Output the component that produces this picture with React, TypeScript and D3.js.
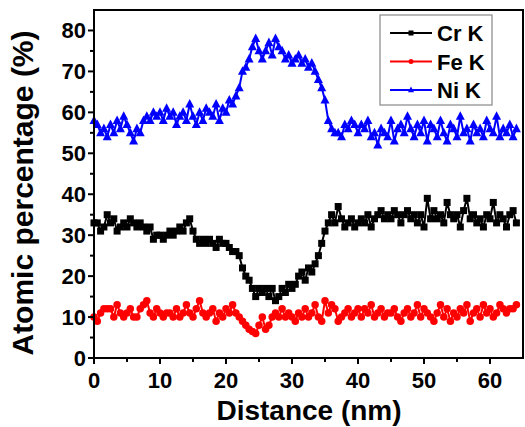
import React from "react";
import * as d3 from "d3";

const STEP = 0.5;
const crK = [
  33,33,31,32,35,33,34,31,32,33,
  32,34,33,32,33,32,31,32,29,30,
  30,29,30,31,30,31,32,31,33,34,
  31,29,28,29,28,29,28,27,29,28,
  28,27,26,26,25,22,20,19,17,15,
  17,16,17,15,17,14,15,17,16,18,
  17,18,20,21,19,22,21,23,25,28,
  31,33,35,33,37,34,32,33,34,32,
  33,34,33,35,32,34,35,36,34,35,
  34,36,35,33,35,36,34,35,33,35,
  32,39,34,36,34,35,33,38,35,34,
  35,32,36,39,34,35,33,34,32,35,
  34,38,33,35,34,32,35,36,33,
];
const feK = [
  10,9,11,12,12,12,10,13,11,10,
  11,12,10,10,12,13,14,11,10,12,
  11,10,11,11,10,12,10,11,13,11,
  10,12,14,11,10,11,12,9,11,10,
  12,11,13,11,10,9,8,7,6.5,6,
  8,10,7,8,10,11,10,12,10,11,
  10,9,11,10,12,10,11,13,10,9,
  14,11,13,12,9,10,11,12,10,11,
  12,10,12,11,13,10,11,12,10,11,
  11,12,10,9,11,12,10,11,13,10,
  12,11,10,9,11,13,10,12,9,11,
  10,12,11,13,9,11,12,10,13,11,
  12,10,11,13,12,11,12,12,13,
];
const niK = [
  58,57,55,56,54,57,55,58,56,59,
  57,55,53,56,55,58,59,58,60,59,
  60,58,61,59,60,57,59,60,58,62,
  59,57,60,58,61,60,59,62,58,61,
  60,63,62,64,66,70,71,73,76,78,
  75,73,75,77,74,78,76,75,73,74,
  72,73,74,72,73,71,72,70,68,66,
  63,58,56,55,55,54,57,56,58,57,
  55,57,56,58,54,55,52,56,55,54,
  58,53,56,57,55,59,56,54,57,55,
  58,53,57,56,54,58,55,53,57,56,
  54,59,55,56,53,57,55,56,54,58,
  56,55,59,54,56,55,57,54,56,
];
const seriesNames = ["Cr K", "Fe K", "Ni K"];
const seriesColors = ["#000000", "#ff0000", "#0000ff"];
const xTicks = [0, 10, 20, 30, 40, 50, 60];
const yTicks = [0, 10, 20, 30, 40, 50, 60, 70, 80];

const W = 525, H = 427;
const L = 94, R = 523, T = 10, B = 358;

function Marker({ kind, x, y, color, s }: { kind: number; x: number; y: number; color: string; s: number }) {
  if (kind === 0) return <rect x={x - s / 2} y={y - s / 2} width={s} height={s} fill={color} />;
  if (kind === 1) return <circle cx={x} cy={y} r={s / 2} fill={color} />;
  const h = s * 0.95;
  return <path d={`M${x},${y - h * 0.6}L${x + s / 2},${y + h * 0.4}L${x - s / 2},${y + h * 0.4}Z`} fill={color} />;
}

export default function App() {
  const x = d3.scaleLinear().domain([0, 65]).range([L, R]);
  const y = d3.scaleLinear().domain([0, 85]).range([B, T]);
  const all = [crK, feK, niK];
  const line = d3.line<number>().x((_, i) => x(i * STEP)).y((d) => y(d));
  const xMinor = d3.range(5, 65, 10);
  const yMinor = d3.range(5, 85, 10);
  const font = "'Liberation Sans', Arial, sans-serif";
  return (
    <div style={{ position: "fixed", left: 0, top: 0 }}>
      <svg width={W} height={H} style={{ display: "block", background: "#fff" }} fontFamily={font}>
        {all.map((data, k) => (
          <g key={k}>
            <path d={line(data) || ""} fill="none" stroke={seriesColors[k]} strokeWidth={2} />
            {data.map((v, i) => (
              <Marker key={i} kind={k} x={x(i * STEP)} y={y(v)} color={seriesColors[k]} s={k === 0 ? 7 : k === 1 ? 7.5 : 9} />
            ))}
          </g>
        ))}
        <rect x={L} y={T} width={R - L} height={B - T} fill="none" stroke="#000" strokeWidth={2} />
        {xTicks.map((t) => (
          <g key={"xt" + t}>
            <line x1={x(t)} x2={x(t)} y1={B} y2={B + 6} stroke="#000" strokeWidth={2} />
            <text x={x(t)} y={388} textAnchor="middle" fontSize={22} fontWeight="bold">{t}</text>
          </g>
        ))}
        {xMinor.map((t) => (
          <line key={"xm" + t} x1={x(t)} x2={x(t)} y1={B} y2={B + 4} stroke="#000" strokeWidth={2} />
        ))}
        {yTicks.map((t) => (
          <g key={"yt" + t}>
            <line x1={L - 6} x2={L} y1={y(t)} y2={y(t)} stroke="#000" strokeWidth={2} />
            <text x={86} y={y(t) + 7.5} textAnchor="end" fontSize={22} fontWeight="bold">{t}</text>
          </g>
        ))}
        {yMinor.map((t) => (
          <line key={"ym" + t} x1={L - 4} x2={L} y1={y(t)} y2={y(t)} stroke="#000" strokeWidth={2} />
        ))}
        <text x={309} y={420} textAnchor="middle" fontSize={28} fontWeight="bold">Distance (nm)</text>
        <text transform={`translate(33,193) rotate(-90)`} textAnchor="middle" fontSize={30} fontWeight="bold">Atomic percentage (%)</text>
        <rect x={380} y={15} width={112} height={90} fill="#fff" stroke="#888" strokeWidth={1.2} />
        {seriesNames.map((n, k) => {
          const ly = 33 + k * 28.5;
          return (
            <g key={n}>
              <line x1={390} x2={432} y1={ly} y2={ly} stroke={seriesColors[k]} strokeWidth={2} />
              <Marker kind={k} x={411} y={ly} color={seriesColors[k]} s={k === 2 ? 6 : 5} />
              <text x={437} y={ly + 8} fontSize={22} fontWeight="bold">{n}</text>
            </g>
          );
        })}
      </svg>
    </div>
  );
}
